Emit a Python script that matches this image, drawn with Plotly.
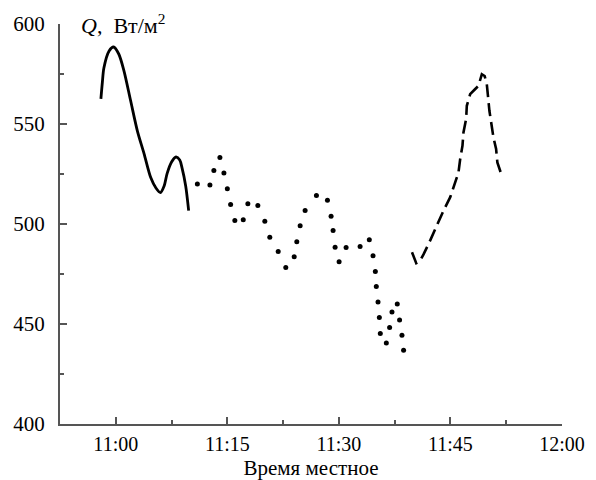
import pandas as pd
import plotly.graph_objects as go

# minutes after 11:00, Q in W/m2
solid_min = [-2.0, -1.8, -1.6, -0.9, -0.3, 0.4, 1.1, 2.0, 2.9, 3.8, 4.7, 5.4, 6.0, 6.5, 6.9, 7.5, 8.1, 8.6, 8.9, 9.4, 9.8]
solid_q = [562.6, 571.0, 578.0, 586.5, 588.5, 585.0, 576.6, 561.6, 546.6, 535.2, 523.2, 518.0, 515.7, 519.0, 525.2, 531.0, 533.5, 532.0, 528.2, 519.0, 506.7]

dot_min = [10.97, 12.66, 13.19, 14.0, 14.54, 15.0, 15.44, 16.01, 17.14, 17.76, 19.1, 20.04, 20.71,
           21.84, 22.86, 23.99, 24.34, 24.79, 25.46, 26.98, 28.46, 28.95, 29.22, 29.49, 30.03,
           30.97, 32.85, 34.09, 34.59, 34.9, 35.03, 35.26, 35.44, 35.57, 36.38, 36.82, 37.14,
           37.85, 38.16, 38.48, 38.7]
dot_q = [520.0, 519.5, 526.7, 533.3, 525.5, 517.6, 509.7, 501.7, 502.1, 510.1, 509.2, 501.4, 493.4,
         486.3, 478.3, 483.6, 491.1, 499.1, 506.7, 514.2, 511.9, 503.9, 496.8, 488.4, 481.1,
         488.3, 488.8, 492.1, 484.1, 476.3, 468.7, 461.0, 453.2, 445.2, 440.5, 448.2, 456.0,
         460.0, 452.0, 444.4, 436.9]

dash_min = [39.83, 40.4, 40.9, 41.38, 42.28, 43.26, 44.07, 44.97, 45.54, 46.08, 46.31, 46.62, 46.75,
            47.11, 47.2, 47.65, 48.2, 48.77, 49.22, 49.6, 49.89, 50.03, 50.24, 50.51, 50.78,
            51.14, 51.31, 51.9]
dash_q = [485.9, 480.4, 481.5, 484.8, 491.8, 500.1, 506.7, 513.4, 520.0, 525.8, 532.5, 539.2, 545.8,
          552.5, 559.1, 564.9, 567.0, 569.1, 574.9, 574.0, 569.9, 563.2, 556.6, 550.0, 543.3,
          537.5, 530.8, 524.2]

tick_labels = ["11:00", "11:15", "11:30", "11:45", "12:00"]

base = pd.Timestamp("2000-01-01 11:00")


def to_time(mins):
    return [base + pd.Timedelta(minutes=m) for m in mins]


FONT = "Liberation Serif"
AXIS = "#555555"

fig = go.Figure()
fig.add_trace(go.Scatter(x=to_time(solid_min), y=solid_q, mode="lines",
                         line=dict(color="black", width=2.8, shape="spline", smoothing=0.8)))
fig.add_trace(go.Scatter(x=to_time(dot_min), y=dot_q, mode="markers",
                         marker=dict(color="black", size=5)))
fig.add_trace(go.Scatter(x=to_time(dash_min), y=dash_q, mode="lines",
                         line=dict(color="black", width=2.6, dash="13px,6px")))

tick_vals = [base + pd.Timedelta(minutes=15 * i) for i in range(len(tick_labels))]

fig.update_xaxes(
    type="date",
    range=[base - pd.Timedelta(minutes=7.5), base + pd.Timedelta(minutes=60)],
    tickvals=tick_vals, ticktext=tick_labels,
    ticks="inside", ticklen=7, tickwidth=1.5, tickcolor=AXIS,
    minor=dict(ticks="inside", ticklen=4, tickwidth=1.5, tickcolor=AXIS,
               tickvals=[base + pd.Timedelta(minutes=7.5 + 15 * i) for i in range(-1, 4)]),
    showline=True, linecolor=AXIS, linewidth=2, showgrid=False, zeroline=False,
    tickfont=dict(family=FONT, size=20, color="black"),
    ticklabelstandoff=1,
    title=dict(text="Время местное", font=dict(family=FONT, size=21, color="black"), standoff=6),
)
fig.update_yaxes(
    range=[400, 600], tickvals=[400, 450, 500, 550, 600],
    ticks="inside", ticklen=7, tickwidth=1.5, tickcolor=AXIS,
    minor=dict(ticks="inside", ticklen=4, tickwidth=1.5, tickcolor=AXIS, dtick=25),
    showline=True, linecolor=AXIS, linewidth=2, showgrid=False, zeroline=False,
    tickfont=dict(family=FONT, size=21, color="black"),
    ticklabelstandoff=9,
)

fig.add_annotation(text="<i>Q</i>,  Вт/м<sup>2</sup>", xref="paper", yref="paper",
                   x=0.038, y=1.0, xanchor="left", yanchor="middle", showarrow=False,
                   font=dict(family=FONT, size=22, color="black"))

# the page adds an 8px body margin, so the figure is 8px smaller and margins shifted
fig.update_layout(
    width=588, height=472,
    margin=dict(l=52, r=34, t=16, b=56, autoexpand=False),
    plot_bgcolor="white", paper_bgcolor="white",
    showlegend=False,
)

fig.write_html("out.html")
